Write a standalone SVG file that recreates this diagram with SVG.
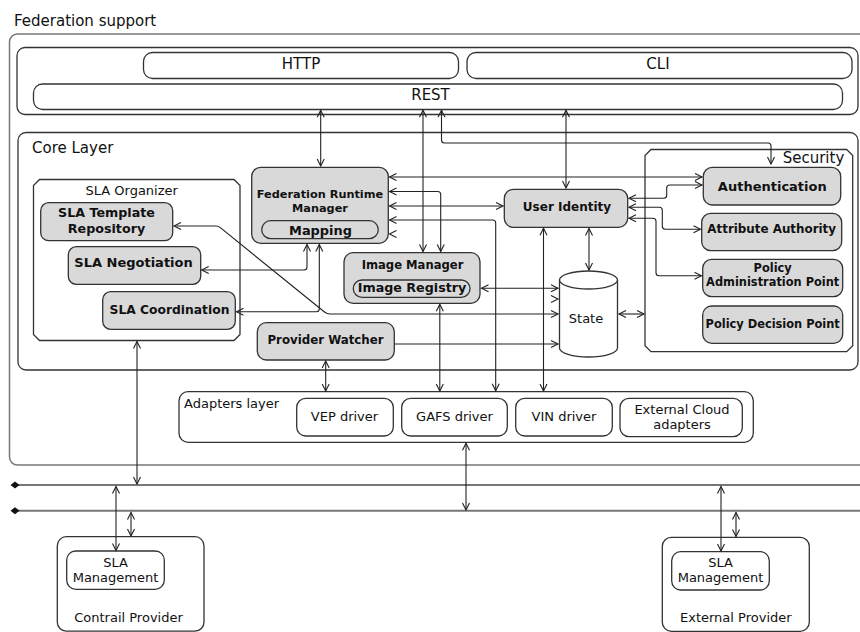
<svg xmlns="http://www.w3.org/2000/svg" width="860" height="632" viewBox="0 0 860 632">
<defs>
<marker id="a" viewBox="-8 -5 10 10" refX="0" refY="0" markerWidth="10" markerHeight="10" markerUnits="userSpaceOnUse" orient="auto-start-reverse"><path d="M-7,-3.5 L0,0 L-7,3.5" fill="none" stroke="#222" stroke-width="1.1"/></marker>
<style>
.t{font-family:"DejaVu Sans","Liberation Sans",sans-serif;fill:#111}
.b{font-weight:bold}
.m{text-anchor:middle}
.g{fill:#d9d9d9;stroke:#333;stroke-width:1.3}
.w{fill:#fff;stroke:#333;stroke-width:1.3}
.c{fill:none;stroke:#222;stroke-width:1.1}
.bus{fill:none;stroke:#777;stroke-width:2}
</style>
</defs>
<rect width="860" height="632" fill="#fff"/>

<g id="federation">
<rect x="9.5" y="34" width="880" height="431" rx="8" fill="none" stroke="#777" stroke-width="1.5"/>
<text class="t" x="14" y="26" font-size="15">Federation support</text>
</g>
<g id="interfaces">
<rect x="17" y="47.5" width="841" height="67" rx="8" class="w"/>
</g>
<g id="http"><rect x="143.5" y="52.5" width="315" height="26" rx="9" class="w"/><text class="t m" x="301" y="69" font-size="15">HTTP</text></g>
<g id="cli"><rect x="467" y="52.5" width="385" height="26" rx="9" class="w"/><text class="t m" x="658" y="69" font-size="15">CLI</text></g>
<g id="rest"><rect x="33.5" y="84" width="809" height="25.5" rx="9" class="w"/><text class="t m" x="430.5" y="100" font-size="15">REST</text></g>

<g id="core"><rect x="18" y="132.5" width="840" height="237.5" rx="8" class="w"/><text class="t" x="32" y="153" font-size="15">Core Layer</text></g>

<g id="sla-organizer"><polygon points="39.5,179.5 234,179.5 240,185.5 240,334.5 234,340.5 39.5,340.5 33.5,334.5 33.5,185.5" class="w"/><text class="t m" x="131.7" y="195" font-size="13">SLA Organizer</text></g>
<g id="sla-template"><rect x="40.7" y="202.7" width="132" height="38" rx="8" class="g"/><text class="t b m" x="106.5" y="217" font-size="12.7">SLA Template</text><text class="t b m" x="106.5" y="233.3" font-size="12.7">Repository</text></g>
<g id="sla-negotiation"><rect x="68.3" y="246.7" width="132.4" height="37.6" rx="8" class="g"/><text class="t b m" x="133.5" y="267.3" font-size="13">SLA Negotiation</text></g>
<g id="sla-coordination"><rect x="102.7" y="291.7" width="132.6" height="37.6" rx="8" class="g"/><text class="t b m" x="169.5" y="314" font-size="12.3">SLA Coordination</text></g>

<g id="frm"><rect x="251.7" y="167.3" width="136.6" height="76" rx="9" class="g"/><text class="t b m" x="320" y="198" font-size="11.3">Federation Runtime</text><text class="t b m" x="320" y="212" font-size="11.3">Manager</text><rect x="261.7" y="220.7" width="116.6" height="18" rx="9" class="g"/><text class="t b m" x="320.5" y="235" font-size="12.9">Mapping</text></g>
<g id="image-manager"><rect x="344" y="252.7" width="136" height="50.6" rx="9" class="g"/><text class="t b m" x="412.5" y="269" font-size="11.6">Image Manager</text><rect x="353.3" y="280" width="116.7" height="17.3" rx="8.6" class="g"/><text class="t b m" x="412" y="292.3" font-size="12.7">Image Registry</text></g>
<g id="provider-watcher"><rect x="257.3" y="322.7" width="137" height="37.3" rx="9" class="g"/><text class="t b m" x="325.5" y="344.3" font-size="11.8">Provider Watcher</text></g>
<g id="user-identity"><rect x="504.3" y="189.3" width="123.4" height="38" rx="9" class="g"/><text class="t b m" x="567" y="211" font-size="12">User Identity</text></g>
<g id="state"><path d="M559.5,280 A29,9 0 0 1 617.5,280 L617.5,348 A29,9 0 0 1 559.5,348 Z" class="w"/><path d="M559.5,280 A29,9 0 0 0 617.5,280" class="w" fill="none"/><text class="t m" x="586" y="322.7" font-size="13">State</text></g>

<g id="security"><polygon points="651,149.5 846.7,149.5 852.7,155.5 852.7,345.7 846.7,351.7 651,351.7 645,345.7 645,155.5" class="w"/><text class="t" x="782.7" y="163" font-size="15">Security</text></g>
<g id="authentication"><rect x="703.3" y="167.3" width="137.4" height="37.7" rx="9" class="g"/><text class="t b m" x="772.3" y="190.7" font-size="13">Authentication</text></g>
<g id="attribute-authority"><rect x="701.7" y="213.3" width="140" height="37.4" rx="9" class="g"/><text class="t b m" x="771.7" y="233.3" font-size="11.9">Attribute Authority</text></g>
<g id="pap"><rect x="702.7" y="259.3" width="140" height="37.4" rx="9" class="g"/><text class="t b m" x="772.7" y="271.6" font-size="11.4">Policy</text><text class="t b m" x="772.7" y="285.7" font-size="11.4">Administration Point</text></g>
<g id="pdp"><rect x="702.7" y="306" width="140" height="37.3" rx="9" class="g"/><text class="t b m" x="772.7" y="328.3" font-size="11.4">Policy Decision Point</text></g>

<g id="adapters"><rect x="179" y="391.7" width="574.3" height="50.6" rx="9" class="w"/><text class="t" x="184" y="408.3" font-size="13">Adapters layer</text></g>
<g id="vep"><rect x="296.7" y="398.3" width="96.6" height="37.7" rx="9" class="w"/><text class="t m" x="344.5" y="420.7" font-size="13">VEP driver</text></g>
<g id="gafs"><rect x="401.7" y="398.3" width="105.6" height="37.7" rx="9" class="w"/><text class="t m" x="454.5" y="420.7" font-size="13">GAFS driver</text></g>
<g id="vin"><rect x="515.7" y="398.3" width="96.6" height="37.7" rx="9" class="w"/><text class="t m" x="564" y="420.7" font-size="13">VIN driver</text></g>
<g id="external-cloud"><rect x="620" y="398.3" width="122.3" height="38.4" rx="9" class="w"/><text class="t m" x="682" y="414" font-size="13">External Cloud</text><text class="t m" x="682" y="428.5" font-size="13">adapters</text></g>

<g id="buses">
<line x1="15" y1="485" x2="860" y2="485" class="bus"/>
<line x1="15" y1="510.7" x2="860" y2="510.7" class="bus"/>
<polygon points="10.5,485 15,481.5 19.5,485 15,488.5" fill="#111"/>
<polygon points="10.5,510.7 15,507.2 19.5,510.7 15,514.2" fill="#111"/>
</g>

<g id="contrail"><rect x="57.3" y="536.7" width="146.7" height="94.5" rx="9" class="w"/><text class="t m" x="128.5" y="621.7" font-size="13">Contrail Provider</text></g>
<g id="contrail-sla"><rect x="66.7" y="551" width="97.6" height="38.3" rx="9" class="w"/><text class="t m" x="115.5" y="566.7" font-size="13">SLA</text><text class="t m" x="115.5" y="581.7" font-size="13">Management</text></g>
<g id="external"><rect x="662.3" y="537.3" width="147" height="94" rx="9" class="w"/><text class="t m" x="735.8" y="621.7" font-size="13">External Provider</text></g>
<g id="external-sla"><rect x="671.7" y="551.7" width="97.6" height="38.3" rx="9" class="w"/><text class="t m" x="720.5" y="567.3" font-size="13">SLA</text><text class="t m" x="720.5" y="582.3" font-size="13">Management</text></g>

<g id="connectors" class="c">
<path d="M320.7,110.3 V166" marker-start="url(#a)" marker-end="url(#a)"/>
<path d="M423,110.3 V251.5" marker-start="url(#a)" marker-end="url(#a)"/>
<path d="M441.5,110.3 V140 Q441.5,143 444.5,143 H768 Q771,143 771,146 V164" marker-start="url(#a)" marker-end="url(#a)"/>
<path d="M566,110.3 V188" marker-start="url(#a)" marker-end="url(#a)"/>
<path d="M389.5,177 H702" marker-start="url(#a)" marker-end="url(#a)"/>
<path d="M389.5,191.5 H437.7 Q440.7,191.5 440.7,194.5 V251.5" marker-start="url(#a)" marker-end="url(#a)"/>
<path d="M389.5,206 H503" marker-start="url(#a)" marker-end="url(#a)"/>
<path d="M389.5,220 H492.7 Q495.7,220 495.7,223 V390.7" marker-start="url(#a)" marker-end="url(#a)"/>
<path d="M396.5,230.5 L389.5,234 L396.5,237.5"/>
<path d="M629,198.3 H663.7 Q666.7,198.3 666.7,195.3 V188 Q666.7,185 669.7,185 H702" marker-start="url(#a)" marker-end="url(#a)"/>
<path d="M629,207.3 H659.3 Q662.3,207.3 662.3,210.3 V226.3 Q662.3,229.3 665.3,229.3 H700.5" marker-start="url(#a)" marker-end="url(#a)"/>
<path d="M629,218.3 H653 Q656,218.3 656,221.3 V272.7 Q656,275.7 659,275.7 H701.5" marker-start="url(#a)" marker-end="url(#a)"/>
<path d="M589,228.5 V270" marker-start="url(#a)" marker-end="url(#a)"/>
<path d="M481.5,288.3 H558" marker-start="url(#a)" marker-end="url(#a)"/>
<path d="M551,295.5 L558,299 L551,302.5"/>
<path d="M174,226 H216 Q218.3,226 220,227.4 L324.5,312 Q327,314 330,314 H558" marker-start="url(#a)" marker-end="url(#a)"/>
<path d="M394.3,344 H558" marker-end="url(#a)"/>
<path d="M619,314 H644" marker-start="url(#a)" marker-end="url(#a)"/>
<path d="M201.7,270 H304 Q307,270 307,267 V244.5" marker-start="url(#a)" marker-end="url(#a)"/>
<path d="M236.5,311.7 H316.3 Q319.3,311.7 319.3,308.7 V244.5" marker-start="url(#a)" marker-end="url(#a)"/>
<path d="M137,341.5 V484" marker-start="url(#a)" marker-end="url(#a)"/>
<path d="M325.7,361 V391" marker-start="url(#a)" marker-end="url(#a)"/>
<path d="M439.8,304.3 V391" marker-start="url(#a)" marker-end="url(#a)"/>
<path d="M543.5,228.3 V391" marker-start="url(#a)" marker-end="url(#a)"/>
<path d="M466,443.3 V510" marker-start="url(#a)" marker-end="url(#a)"/>
<path d="M116,486.5 V550.5" marker-start="url(#a)" marker-end="url(#a)"/>
<path d="M131,512.5 V536" marker-start="url(#a)" marker-end="url(#a)"/>
<path d="M721,486.5 V551" marker-start="url(#a)" marker-end="url(#a)"/>
<path d="M736,512.5 V536.5" marker-start="url(#a)" marker-end="url(#a)"/>
</g>
</svg>
